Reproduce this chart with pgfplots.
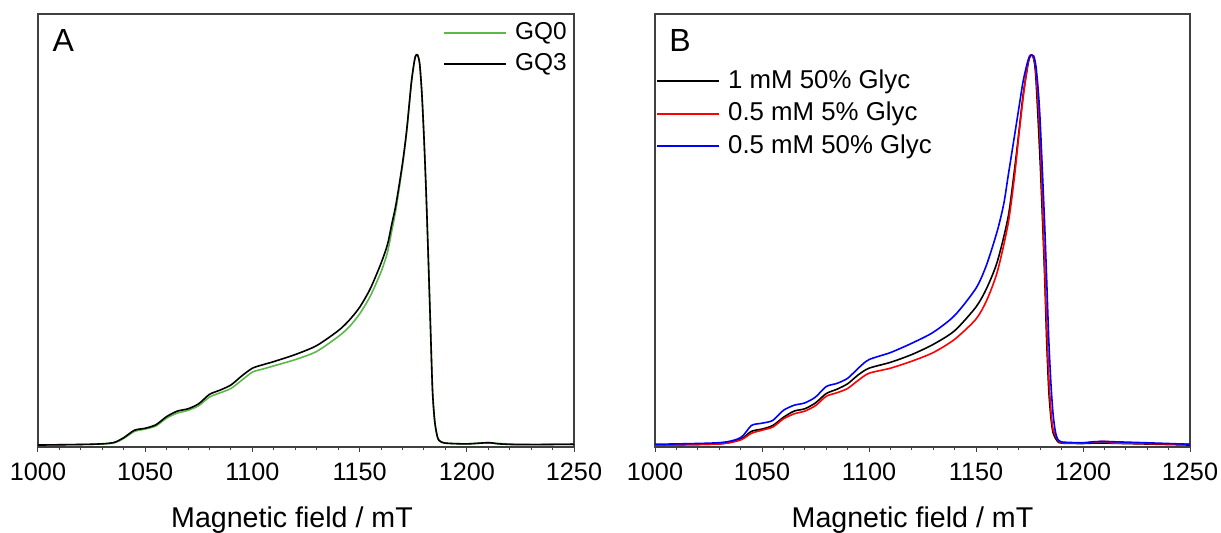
\documentclass[border=0pt]{standalone}
\usepackage{pgfplots}
\pgfplotsset{compat=1.18}
\usepackage{fontspec}
\setmainfont{Liberation Sans}
\definecolor{gqgreen}{HTML}{5CB848}
\definecolor{axgray}{HTML}{404040}
\pgfplotsset{
  myaxis/.style={
    scale only axis, width=268pt, height=216.5pt,
    xmin=1000, xmax=1250, ymin=-0.005, ymax=1.105,
    xtick={1000,1050,...,1250}, minor x tick num=4,
    ytick=\empty, xtick pos=bottom, tick align=outside,
    major tick length=2.6pt, minor tick length=1.6pt,
    every tick/.style={axgray, line width=0.5pt},
    axis line style={axgray, line width=0.6pt},
    /pgf/number format/assume math mode=true,
    xticklabel style={/pgf/number format/1000 sep={}, font=\fontsize{12.6}{14}\selectfont, yshift=-2pt},
    xlabel={Magnetic field / mT},
    xlabel style={font=\fontsize{14.3}{16}\selectfont, yshift=-6pt},
    legend cell align=left,
    legend image code/.code={\draw[##1, line width=1pt] (0pt,0.25pt) -- (31pt,0.25pt); \path (34.5pt,0pt);},
    every axis plot/.append style={line width=0.8pt, smooth, tension=0.45},
  }
}
\begin{document}
\begin{tikzpicture}
\path[use as bounding box] (-19pt,-43pt) rectangle (591.5pt,223.5pt);
% Panel A
\begin{axis}[myaxis, at={(0pt,0pt)}, anchor=south west,
  xlabel style={xshift=-7pt},
  legend style={draw=none, fill=none, inner sep=0pt, at={(1,1)}, anchor=north east, xshift=-3pt, yshift=-3pt,
    font=\fontsize{12.2}{14}\selectfont, nodes={inner sep=0.5pt, text height=9pt, text depth=3pt}, row sep=2.5pt}]
\addplot[gqgreen] coordinates {
(1000,0.000)(1025,0.002)(1035,0.005)(1040,0.017)(1045,0.035)(1050,0.041)(1055,0.049)(1060,0.069)
(1065,0.082)(1070,0.089)(1075,0.101)(1080,0.123)(1085,0.134)(1090,0.145)(1095,0.166)(1100,0.187)
(1105,0.195)(1110,0.203)(1120,0.219)(1130,0.240)(1140,0.278)(1145,0.302)(1150,0.336)(1155,0.382)
(1160,0.444)(1163,0.494)(1165,0.549)(1167,0.606)(1170,0.715)(1172,0.805)(1174,0.920)(1175,0.964)
(1176,0.996)(1177,1.000)(1178,0.978)(1179,0.905)(1180,0.792)(1181,0.653)(1182,0.488)(1183,0.314)
(1184,0.141)(1185,0.063)(1186,0.028)(1187,0.012)(1190,0.005)(1200,0.003)(1210,0.006)(1215,0.004)
(1225,0.002)(1250,0.002)};
\addlegendentry{GQ0}
\addplot[black] coordinates {
(1000,0.000)(1025,0.002)(1035,0.006)(1040,0.019)(1045,0.038)(1050,0.043)(1055,0.052)(1060,0.073)
(1065,0.087)(1070,0.093)(1075,0.106)(1080,0.130)(1085,0.141)(1090,0.154)(1095,0.177)(1100,0.197)
(1105,0.206)(1110,0.214)(1120,0.232)(1130,0.255)(1140,0.293)(1145,0.319)(1150,0.353)(1155,0.401)
(1160,0.466)(1163,0.514)(1165,0.566)(1167,0.618)(1170,0.722)(1172,0.809)(1174,0.922)(1175,0.965)
(1176,0.996)(1177,1.000)(1178,0.978)(1179,0.905)(1180,0.792)(1181,0.653)(1182,0.488)(1183,0.314)
(1184,0.141)(1185,0.063)(1186,0.028)(1187,0.012)(1190,0.005)(1200,0.003)(1210,0.006)(1215,0.003)
(1225,0.001)(1250,0.002)};
\addlegendentry{GQ3}
\node[font=\fontsize{16}{18}\selectfont, anchor=center] at (rel axis cs:0.047,0.938) {A};
\end{axis}
% Panel B
\begin{axis}[myaxis, width=267.5pt, at={(308.5pt,0pt)}, anchor=south west,
  xlabel style={xshift=-5pt},
  legend style={draw=none, fill=none, inner sep=0pt, at={(0,1)}, anchor=north west, xshift=0.5pt, yshift=-27pt,
    font=\fontsize{12.9}{15}\selectfont, nodes={inner sep=0.5pt, text height=9.5pt, text depth=3pt}, row sep=2.75pt}]
\addplot[black] coordinates {
(1000,0.000)(1030,0.003)(1040,0.015)(1045,0.035)(1050,0.041)(1055,0.050)(1060,0.071)(1065,0.087)
(1070,0.093)(1075,0.108)(1080,0.132)(1085,0.143)(1090,0.157)(1095,0.180)(1100,0.197)(1110,0.212)
(1120,0.232)(1130,0.258)(1140,0.293)(1150,0.354)(1155,0.402)(1160,0.471)(1165,0.584)(1168,0.706)
(1170,0.800)(1172,0.897)(1174,0.967)(1175,0.993)(1176,1.000)(1177,0.989)(1178,0.940)(1180,0.723)
(1182,0.445)(1183,0.271)(1184,0.141)(1185,0.071)(1186,0.032)(1188,0.010)(1190,0.005)(1200,0.004)
(1210,0.005)(1250,0.000)};
\addlegendentry{1 mM 50\% Glyc}
\addplot[red] coordinates {
(1000,0.000)(1030,0.003)(1040,0.013)(1045,0.030)(1050,0.038)(1055,0.046)(1060,0.067)(1065,0.080)
(1070,0.087)(1075,0.101)(1080,0.125)(1085,0.134)(1090,0.145)(1095,0.166)(1100,0.184)(1110,0.197)
(1120,0.215)(1130,0.237)(1140,0.271)(1150,0.323)(1155,0.371)(1160,0.445)(1165,0.567)(1168,0.689)
(1170,0.793)(1172,0.889)(1174,0.971)(1175,0.997)(1176,1.000)(1177,0.991)(1178,0.958)(1180,0.776)
(1182,0.471)(1183,0.315)(1184,0.176)(1185,0.089)(1186,0.041)(1188,0.015)(1190,0.006)(1200,0.005)
(1208,0.009)(1212,0.009)(1215,0.005)(1250,0.002)};
\addlegendentry{0.5 mM 5\% Glyc}
\addplot[blue] coordinates {
(1000,0.002)(1030,0.006)(1040,0.019)(1045,0.050)(1050,0.056)(1055,0.063)(1060,0.089)(1065,0.102)
(1070,0.108)(1075,0.123)(1080,0.150)(1085,0.158)(1090,0.171)(1095,0.197)(1100,0.219)(1110,0.237)
(1120,0.261)(1130,0.289)(1140,0.332)(1150,0.402)(1155,0.463)(1160,0.550)(1163,0.619)(1165,0.689)
(1168,0.793)(1170,0.863)(1172,0.932)(1174,0.980)(1175,0.995)(1176,1.000)(1177,0.997)(1178,0.971)
(1179,0.915)(1180,0.828)(1182,0.576)(1183,0.428)(1184,0.271)(1185,0.158)(1186,0.080)(1187,0.037)
(1188,0.017)(1190,0.008)(1200,0.006)(1210,0.009)(1250,0.002)};
\addlegendentry{0.5 mM 50\% Glyc}
\node[font=\fontsize{16}{18}\selectfont, anchor=center] at (rel axis cs:0.047,0.938) {B};
\end{axis}
\end{tikzpicture}
\end{document}
